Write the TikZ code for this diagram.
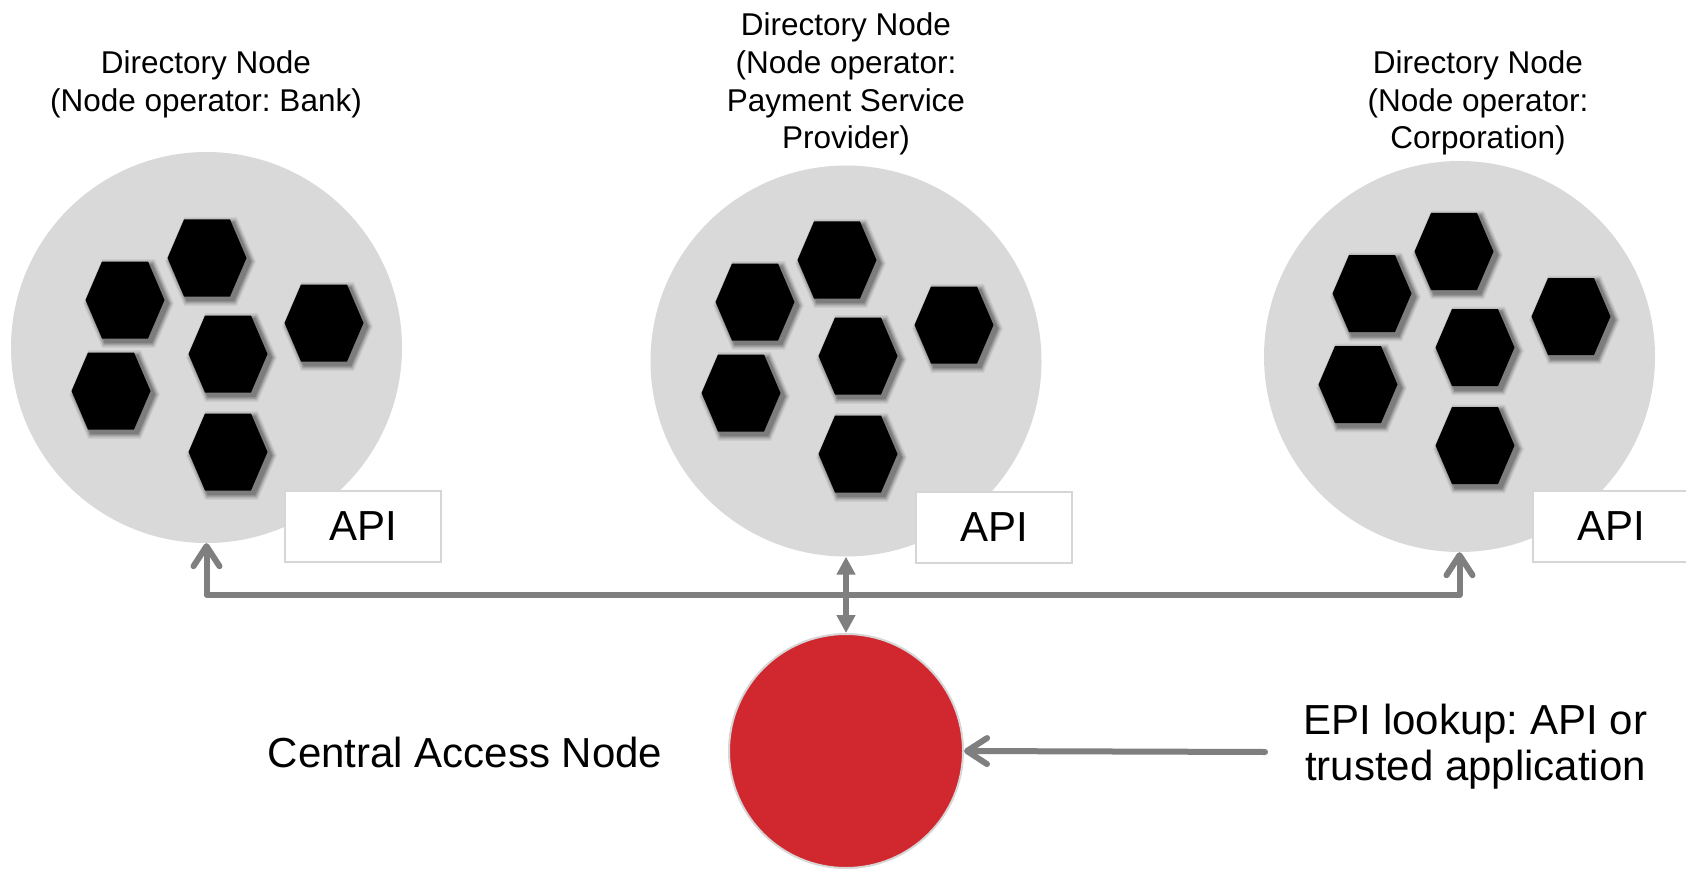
\documentclass[tikz,border=0pt]{standalone}
\usepackage{fontspec}
\setmainfont{Liberation Sans}
\usetikzlibrary{arrows.meta}
\frenchspacing

\definecolor{dirgray}{HTML}{D9D9D9}
\definecolor{edgegray}{HTML}{D6D6D6}
\definecolor{linkgray}{HTML}{7F7F7F}
\definecolor{canred}{HTML}{D0282E}

\tikzset{
  dircircle/.style={circle, fill=dirgray, minimum size=391pt, inner sep=0pt},
  cancircle/.style={circle, fill=canred, draw=edgegray, line width=2pt,
    minimum size=234pt, inner sep=0pt},
  apibox/.style={rectangle, draw=edgegray, line width=2pt, fill=white,
    minimum width=156pt, minimum height=71pt, inner sep=0pt,
    font=\fontsize{42}{48}\selectfont},
  toplabel/.style={align=center, inner sep=0pt,
    font=\fontsize{31.5}{37.8}\selectfont},
  bigtext/.style={align=center, inner sep=0pt,
    font=\fontsize{42}{46}\selectfont},
  link/.style={draw=linkgray, line width=6pt, line join=round, line cap=round},
  openhead/.style={-{Straight Barb[length=20pt, width=26pt, round]}},
  solidheads/.style={{Triangle[length=18pt, width=18pt]}-{Triangle[length=18pt, width=18pt]}},
  % one black hexagon with a soft drop shadow towards the lower right
  hexcell/.pic={
    \foreach \s/\o/\d in {1.15/0.06/3.5, 1.12/0.08/3.5, 1.09/0.10/3.5,
                          1.06/0.12/3.5, 1.03/0.15/3.5, 1/1/0}{
      \fill[black, opacity=\o, shift={(\d,\d)}, scale=\s]
        (-39.5,0) -- (-23,-38.5) -- (23,-38.5) -- (39.5,0)
        -- (23,38.5) -- (-23,38.5) -- cycle;
    }
  },
  % the group of six hexagons inside a directory node
  hexcluster/.pic={
    \pic at (0.5,-89.5) {hexcell};
    \pic at (-81.5,-47.5) {hexcell};
    \pic at (117.5,-24.5) {hexcell};
    \pic at (21.5,6.5) {hexcell};
    \pic at (-95.5,43.5) {hexcell};
    \pic at (21.5,104.5) {hexcell};
  }
}

\begin{document}
\begin{tikzpicture}[x=1pt, y=-1pt]
\useasboundingbox (0,0) rectangle (1686,869);
\fill[white] (0,0) rectangle (1686,869);

% directory nodes
\node[dircircle] (c1) at (206.5,347.5) {};
\node[dircircle] (c2) at (846,361) {};
\node[dircircle] (c3) at (1459.5,356.5) {};

\pic at (206.5,347.5) {hexcluster};
\pic at (836.5,349.5) {hexcluster};
\pic at (1453.5,341) {hexcluster};

% API boxes
\node[apibox] (api1) at (363,526.5) {API};
\node[apibox] (api2) at (994,527.5) {API};
\node[apibox] (api3) at (1611,526.5) {API};

% central access node
\node[cancircle] (can) at (846,751) {};

% connectors
\coordinate (j) at (846,595);
\draw[link, openhead] (j) -| (c1.south);
\draw[link, openhead] (j) -| (c3.south);
\draw[link, solidheads] (c2.south) -- (can.north);

\coordinate (epiend) at (1265,752);
\draw[link, openhead] (epiend) -- (can.east);

% labels
\node[toplabel] (lab1) at (206,84) {Directory Node\\(Node operator: Bank)};
\node[toplabel] (lab2) at (846,84) {Directory Node\\(Node operator:\\Payment Service\\Provider)};
\node[toplabel] (lab3) at (1478,103) {Directory Node\\(Node operator:\\Corporation)};

\node[bigtext, anchor=base] (canlabel) at (465,767) {Central Access Node};
\node[bigtext] (epi) at (1475.5,747) {EPI lookup: API or\\trusted application};
\end{tikzpicture}
\end{document}
